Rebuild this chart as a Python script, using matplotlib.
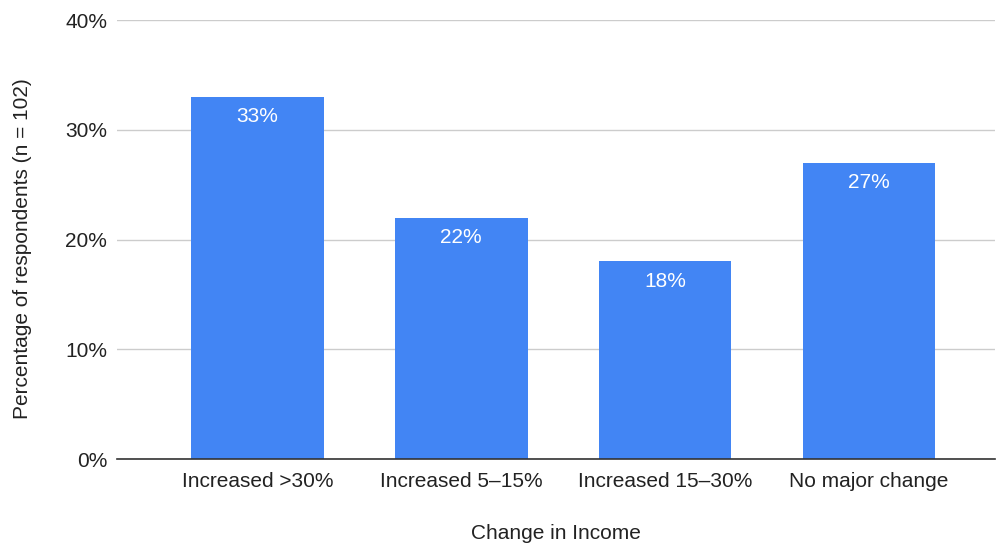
import matplotlib
matplotlib.use('Agg')
import matplotlib.pyplot as plt
import numpy as np

plt.rcParams['font.family'] = ['Liberation Sans', 'DejaVu Sans']

categories = ['Increased >30%', 'Increased 5–15%', 'Increased 15–30%', 'No major change']
values = [33, 22, 18, 27]
yticks = [0, 10, 20, 30, 40]

fig = plt.figure(figsize=(9.97, 5.44), dpi=100)
ax = fig.add_axes([0.1174, 0.1562, 0.8806, 0.807])

x = np.arange(len(categories))
bars = ax.bar(x, values, width=0.65, color='#4285F4', zorder=3)

for xi, v in zip(x, values):
    ax.text(xi, v - 0.95, f'{v}%', ha='center', va='top', color='white', fontsize=15, zorder=4)

ax.set_xlim(-0.69, 3.62)
ax.set_ylim(0, 40)
ax.set_yticks(yticks)
ax.set_yticklabels([f'{t}%' for t in yticks], fontsize=15, color='#222222')
ax.set_xticks(x)
ax.set_xticklabels(categories, fontsize=15, color='#222222')
ax.tick_params(axis='both', length=0)
ax.tick_params(axis='y', pad=7)
ax.tick_params(axis='x', pad=9)

ax.grid(axis='y', color='#cccccc', linewidth=1, zorder=0)
for side in ['top', 'right', 'left']:
    ax.spines[side].set_visible(False)
ax.spines['bottom'].set_color('#333333')
ax.spines['bottom'].set_linewidth(1.2)
ax.spines['bottom'].set_zorder(5)

ax.set_ylabel('Percentage of respondents (n = 102)', fontsize=15, color='#222222')
ax.yaxis.set_label_coords(-0.097, 0.48)
ax.set_xlabel('Change in Income', fontsize=15, color='#222222', labelpad=24)

fig.savefig('out.png', dpi=100)
